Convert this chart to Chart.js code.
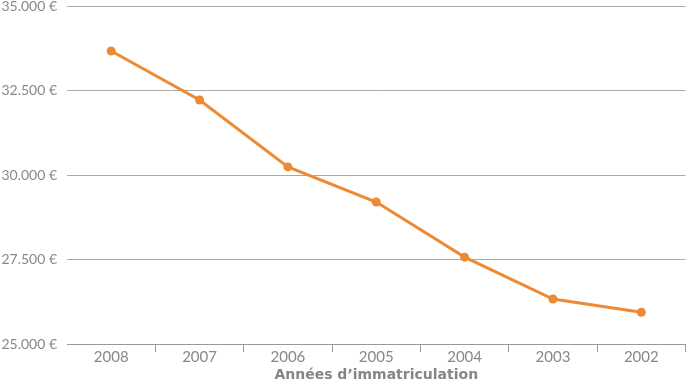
<!DOCTYPE html>
<html>
<head>
<meta charset="utf-8">
<script src="https://cdn.jsdelivr.net/npm/chart.js@4.4.0/dist/chart.umd.min.js"></script>
<style>
html,body{margin:0;padding:0;background:#fff;}
#wrap{width:690px;height:384px;}
</style>
</head>
<body>
<div id="wrap"><canvas id="c" width="690" height="384"></canvas></div>
<script>
const categories = ["2008","2007","2006","2005","2004","2003","2002"];
const prices = [33670, 32220, 30240, 29200, 27570, 26330, 25940];
const yTicks = [25000, 27500, 30000, 32500, 35000];
const xTitle = "Années d\u2019immatriculation";

const fmt = v => v.toLocaleString('de-DE') + ' €';

new Chart(document.getElementById('c'), {
  type: 'line',
  data: {
    labels: categories,
    datasets: [{
      data: prices,
      borderColor: '#EE8A33',
      backgroundColor: '#EE8A33',
      borderWidth: 3,
      pointRadius: 4.5,
      pointHoverRadius: 4.5,
      pointBackgroundColor: '#EE8A33',
      pointBorderWidth: 0,
      tension: 0,
      fill: false
    }]
  },
  options: {
    responsive: false,
    animation: false,
    devicePixelRatio: 1,
    layout: { padding: { top: 0, right: 1, left: 0, bottom: 0 } },
    plugins: { legend: { display: false }, tooltip: { enabled: false } },
    scales: {
      x: {
        offset: true,
        afterFit: axis => { axis.height = 40; },
        grid: {
          offset: true,
          drawOnChartArea: false,
          drawTicks: true,
          tickLength: 8,
          color: ctx => ctx.index === 0 ? 'rgba(0,0,0,0)' : '#999999'
        },
        border: { display: true, color: '#999999', width: 1 },
        ticks: {
          color: '#888888',
          font: { family: 'Lato', size: 15 },
          padding: -4
        },
        title: {
          display: true,
          text: xTitle,
          color: '#858585',
          font: { family: 'DejaVu Sans', size: 14, weight: 'bold' },
          padding: { top: 0, bottom: 0 }
        }
      },
      y: {
        min: 25000,
        max: 35000,
        afterBuildTicks: axis => { axis.ticks = yTicks.map(v => ({ value: v })); },
        afterFit: axis => { axis.width = 67; axis.paddingTop = 6; axis.paddingBottom = 0; },
        grid: { color: '#aaaaaa', lineWidth: 1, drawTicks: false },
        border: { display: false },
        ticks: {
          color: '#888888',
          font: { family: 'Lato', size: 14 },
          padding: 10,
          callback: v => fmt(v)
        }
      }
    }
  }
});
</script>
</body>
</html>
